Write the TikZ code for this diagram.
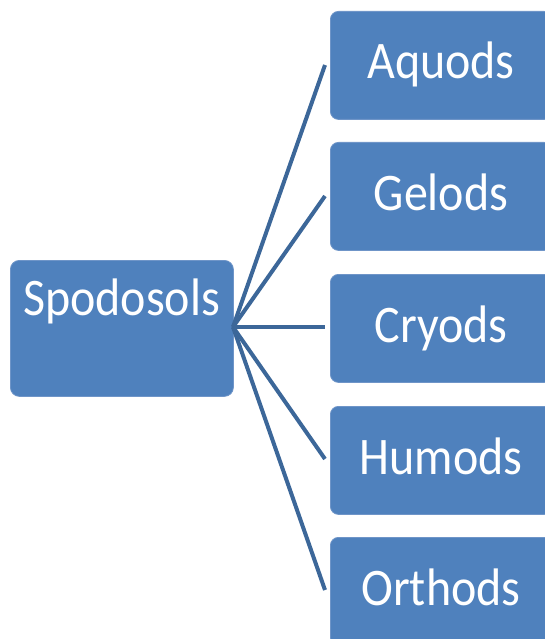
\documentclass[tikz,border=0pt]{standalone}
\usepackage{fontspec}
\setmainfont{Carlito}
\definecolor{boxfill}{HTML}{4F81BD}
\definecolor{boxedge}{HTML}{6F95C8}
\definecolor{linkcol}{HTML}{3C6799}
\tikzset{
  leafbox/.style={draw=boxedge, line width=0.8pt, fill=boxfill, rounded corners=8pt, minimum width=222pt, minimum height=108pt, inner sep=0pt, anchor=north west},
  rootbox/.style={draw=boxedge, line width=0.8pt, fill=boxfill, rounded corners=9pt, minimum width=223pt, minimum height=136pt, inner sep=0pt, anchor=north west},
  link/.style={draw=linkcol, line width=4pt},
  lbl/.style={text=white, font=\fontsize{48}{56}\selectfont, inner sep=0pt, anchor=base}
}
\begin{document}
\begin{tikzpicture}[x=1pt,y=-1pt]
\useasboundingbox (0,0) rectangle (545,639);
\clip (0,0) rectangle (545,639);
\node[rootbox] (root) at (10,260) {};
\node[lbl] (rootlbl) at (121.5,315) {\scalebox{1}[1.1]{Spodosols}};
\node[leafbox] (a) at (330,11) {};
\node[leafbox] (g) at (330,142) {};
\node[leafbox] (c) at (330,274) {};
\node[leafbox] (h) at (330,406) {};
\node[leafbox] (o) at (330,537) {};
\node[lbl] (al) at (441,79) {\scalebox{1}[1.1]{Aquods}};
\node[lbl] (gl) at (441,210) {\scalebox{1}[1.1]{Gelods}};
\node[lbl] (cl) at (441,342) {\scalebox{1}[1.1]{Cryods}};
\node[lbl] (hl) at (441,474) {\scalebox{1}[1.1]{Humods}};
\node[lbl] (ol) at (441,605) {\scalebox{1}[1.1]{Orthods}};
\coordinate (src) at (233,327);
\coordinate (ta) at (325,65);
\coordinate (tg) at (325,196);
\coordinate (tc) at (325,327);
\coordinate (th) at (325,459);
\coordinate (to) at (325,590);
\draw[link] (src) -- (ta);
\draw[link] (src) -- (tg);
\draw[link] (src) -- (tc);
\draw[link] (src) -- (th);
\draw[link] (src) -- (to);
\end{tikzpicture}
\end{document}
